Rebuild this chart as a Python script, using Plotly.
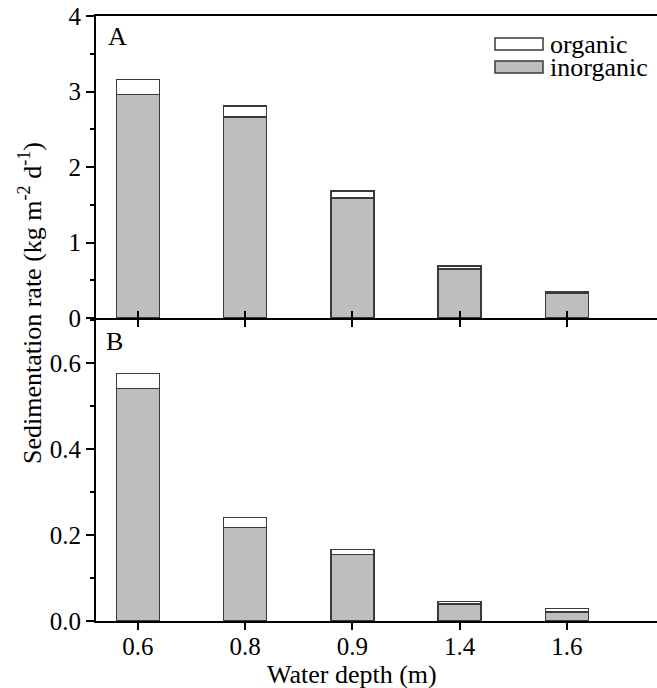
import plotly.graph_objects as go

# Water depth categories (m)
depths = ["0.6", "0.8", "0.9", "1.4", "1.6"]

# Panel A: sedimentation rate (kg m-2 d-1)
a_inorganic = [2.96, 2.66, 1.59, 0.65, 0.33]
a_organic = [0.20, 0.15, 0.09, 0.04, 0.015]

# Panel B: sedimentation rate (kg m-2 d-1)
b_inorganic = [0.541, 0.217, 0.155, 0.039, 0.021]
b_organic = [0.035, 0.024, 0.011, 0.006, 0.008]

FONT = "Liberation Serif"
GRAY = "#bebebe"
EDGE = "#3a3a3a"
W, H = 657, 688
ML, MR, MT, MB = 96, 0, 16, 67
PW, PH = W - ML - MR, H - MT - MB


def px_x(x):
    return (x - ML) / PW


def px_y(y):
    return (H - MB - y) / PH


fig = go.Figure()

bar_line = dict(color=EDGE, width=1.5)
for xa, ya, inorg, org in [("x", "y", a_inorganic, a_organic),
                           ("x2", "y2", b_inorganic, b_organic)]:
    fig.add_trace(go.Bar(x=depths, y=inorg, name="inorganic", xaxis=xa, yaxis=ya,
                         marker=dict(color=GRAY, line=bar_line), width=0.4,
                         showlegend=False))
    fig.add_trace(go.Bar(x=depths, y=org, name="organic", xaxis=xa, yaxis=ya,
                         marker=dict(color="white", line=bar_line), width=0.4,
                         showlegend=False))

# the shared border between panels: both axis lines centred on the same row
top_bottom = px_y(318)
low_top = px_y(320)
xrange = [-0.39, 4.84]
tickfont = dict(family=FONT, size=25, color="black")

common_x = dict(type="category", range=xrange, showline=True, linecolor="black",
                linewidth=2, showgrid=False, zeroline=False, ticklen=7,
                tickwidth=2, tickcolor="black", tickfont=tickfont)
common_y = dict(showline=True, linecolor="black", linewidth=2, showgrid=False,
                zeroline=False, ticks="outside", ticklen=8, tickwidth=2,
                tickcolor="black", tickfont=tickfont)

fig.update_layout(
    width=W, height=H,
    margin=dict(l=ML, r=MR, t=MT, b=MB),
    paper_bgcolor="white", plot_bgcolor="white",
    barmode="stack",
    font=dict(family=FONT, size=26, color="black"),
    xaxis=dict(common_x, domain=[0, 1], anchor="y", ticks="outside",
               showticklabels=False, mirror=True),
    yaxis=dict(common_y, domain=[top_bottom, 1], anchor="x", range=[0, 4],
               dtick=1, tickformat="d",
               minor=dict(ticks="outside", ticklen=4, tickwidth=2,
                          tickcolor="black", dtick=0.5)),
    xaxis2=dict(common_x, domain=[0, 1], anchor="y2", ticks="outside",
                mirror="ticks", ticklabelstandoff=-5),
    yaxis2=dict(common_y, domain=[0, low_top], anchor="x2", range=[0, 0.7],
                dtick=0.2, tickformat=".1f",
                minor=dict(ticks="outside", ticklen=4, tickwidth=2,
                           tickcolor="black", dtick=0.1)),
)

annotations = [
    dict(text="A", x=px_x(117), y=px_y(37)),
    dict(text="B", x=px_x(114), y=px_y(341)),
    dict(text="Water depth (m)", x=px_x(352), y=px_y(674)),
    dict(text="Sedimentation rate (kg m<sup>-2</sup> d<sup>-1</sup>)",
         x=px_x(30), y=px_y(303), textangle=-90),
    dict(text="organic", x=px_x(548), y=px_y(44), xanchor="left"),
    dict(text="inorganic", x=px_x(548), y=px_y(67), xanchor="left"),
]
for a in annotations:
    a.setdefault("xanchor", "center")
    fig.add_annotation(xref="paper", yref="paper", showarrow=False,
                       yanchor="middle", font=dict(family=FONT, size=26, color="black"),
                       **a)

# Legend swatches
for fill, y0, y1 in [("white", 38, 50), (GRAY, 61, 73)]:
    fig.add_shape(type="rect", xref="paper", yref="paper",
                  x0=px_x(495), x1=px_x(543), y0=px_y(y1), y1=px_y(y0),
                  fillcolor=fill, line=dict(color=EDGE, width=1.5))

fig.write_html("out.html")
